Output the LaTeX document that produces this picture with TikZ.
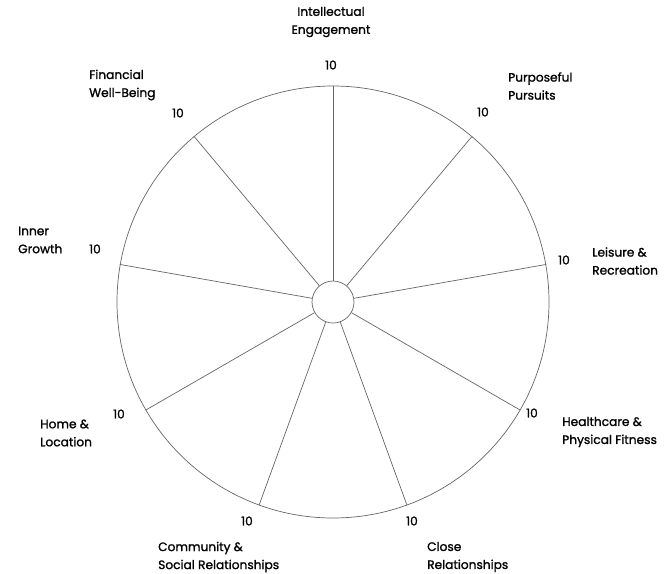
\documentclass[tikz,border=0pt]{standalone}
\usepackage{fontspec}
\setmainfont{Poppins}[FakeBold=1.3]
\begin{document}
\begin{tikzpicture}[x=1pt,y=-1pt,
  spoke/.style={draw=black!60,line width=0.7pt},
  lab/.style={font=\fontsize{12.2}{18}\selectfont,align=left,anchor=west,inner sep=0pt},
  num/.style={font=\fontsize{12.2}{12}\selectfont,inner sep=0pt}]
\useasboundingbox[fill=white] (0,0) rectangle (671,573);
\coordinate (c) at (333,302);
\node[draw=black!60,line width=0.7pt,circle,minimum size=432pt,inner sep=0pt] (big) at (c) {};
\node[draw=black!60,line width=0.7pt,circle,minimum size=42pt,inner sep=0pt,fill=white] (hub) at (c) {};
\foreach \a/\n in {90/a,50/b,10/c,-30/d,-70/e,-110/f,-150/g,170/h,130/i}{
  \draw[spoke] (hub.\a) -- (big.\a);
}
\node[lab,align=center,anchor=center] (t1) at (331,22) {Intellectual\\Engagement};
\node[num] (n1) at (331,65) {10};
\node[lab] (t2) at (508,86) {Purposeful\\Pursuits};
\node[num] (n2) at (483,112) {10};
\node[lab] (t3) at (592,261) {Leisure \&\\Recreation};
\node[num] (n3) at (564,260) {10};
\node[lab] (t4) at (562,432) {Healthcare \&\\Physical Fitness};
\node[num] (n4) at (532,413) {10};
\node[lab] (t5) at (427,557) {Close\\Relationships};
\node[num] (n5) at (412,521) {10};
\node[lab] (t6) at (158,557) {Community \&\\Social Relationships};
\node[num] (n6) at (247,521) {10};
\node[lab] (t7) at (40,433) {Home \&\\Location};
\node[num] (n7) at (119,414) {10};
\node[lab] (t8) at (18,240) {Inner\\Growth};
\node[num] (n8) at (95,249) {10};
\node[lab] (t9) at (89,85) {Financial\\Well-Being};
\node[num] (n9) at (178,113) {10};
\end{tikzpicture}
\end{document}
